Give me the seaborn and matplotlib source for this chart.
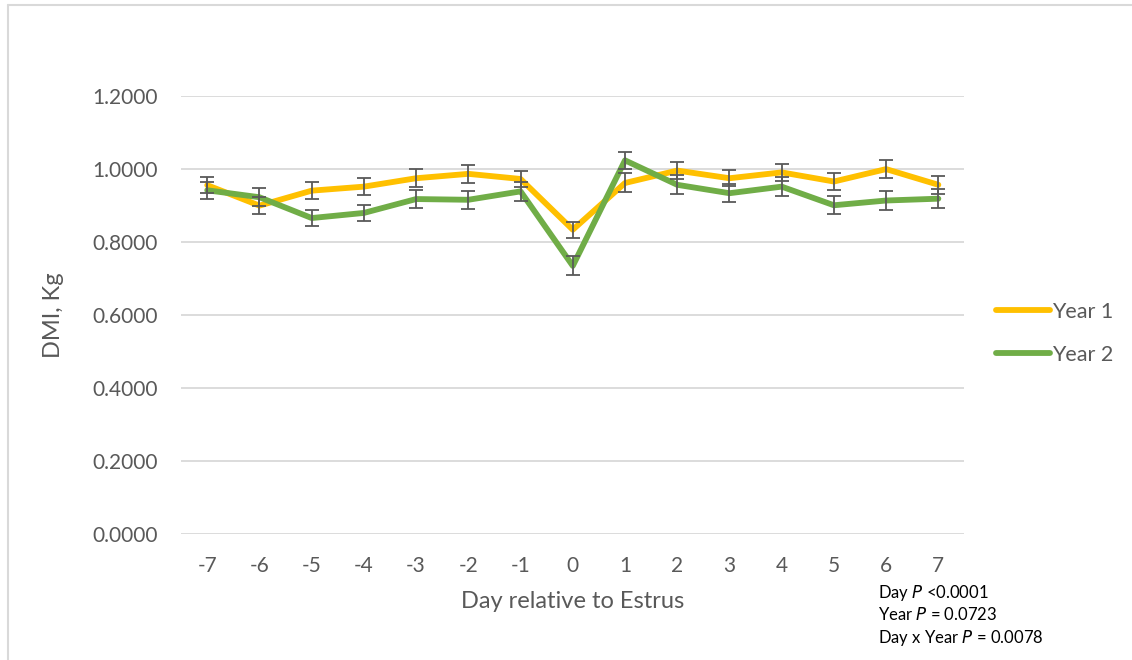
import pandas as pd
import matplotlib.pyplot as plt
import seaborn as sns
from matplotlib.lines import Line2D

days = [-7, -6, -5, -4, -3, -2, -1, 0, 1, 2, 3, 4, 5, 6, 7]
year1 = [0.955, 0.899, 0.940, 0.951, 0.974, 0.986, 0.972, 0.833, 0.961,
         0.995, 0.974, 0.990, 0.965, 0.999, 0.956]
year2 = [0.941, 0.922, 0.865, 0.879, 0.917, 0.915, 0.938, 0.734, 1.023,
         0.956, 0.933, 0.951, 0.900, 0.913, 0.918]
year1_se = [0.022, 0.024, 0.023, 0.023, 0.025, 0.024, 0.023, 0.022, 0.026,
            0.023, 0.022, 0.023, 0.023, 0.025, 0.025]
year2_se = [0.024, 0.024, 0.023, 0.023, 0.025, 0.024, 0.027, 0.026, 0.024,
            0.026, 0.025, 0.027, 0.024, 0.025, 0.026]
series = ['Year 1', 'Year 2']
colors = ['#FFC000', '#70AD47']
grey = '#595959'

df = pd.DataFrame({
    'day': days * 2,
    'dmi': year1 + year2,
    'se': year1_se + year2_se,
    'year': [series[0]] * len(days) + [series[1]] * len(days),
})

sns.set_style('white')
plt.rcParams['font.family'] = ['Lato', 'DejaVu Sans']

fig = plt.figure(figsize=(11.32, 6.6), dpi=100)
ax = fig.add_axes([0.160, 0.191, 0.692, 0.664])

sns.lineplot(data=df, x='day', y='dmi', hue='year', palette=colors,
             linewidth=4.2, ax=ax, legend=False, zorder=2,
             solid_capstyle='round')
for name in series:
    sub = df[df['year'] == name]
    ax.errorbar(sub['day'], sub['dmi'], yerr=sub['se'], fmt='none',
                ecolor=grey, elinewidth=1.3, capsize=5, capthick=1.3, zorder=3)

ax.set_xlim(-7.5, 7.5)
ax.set_ylim(0, 1.2)
ax.set_xticks(days)
ax.set_xticklabels([str(d) for d in days])
ax.set_yticks([0, 0.2, 0.4, 0.6, 0.8, 1.0, 1.2])
ax.set_yticklabels(['%.4f' % v for v in [0, 0.2, 0.4, 0.6, 0.8, 1.0, 1.2]])
ax.grid(axis='y', color='#d9d9d9', linewidth=1.3, zorder=0)
ax.set_axisbelow(True)
for s in ['top', 'right', 'left', 'bottom']:
    ax.spines[s].set_visible(False)
ax.tick_params(axis='both', length=0, labelsize=15, colors=grey)
ax.tick_params(axis='y', pad=17)
ax.tick_params(axis='x', pad=16)
ax.set_xlabel('Day relative to Estrus', fontsize=17, color=grey, labelpad=11)
ax.set_ylabel('DMI, Kg', fontsize=17, color=grey, labelpad=20)

handles = [Line2D([0], [0], color=c, linewidth=4.2, solid_capstyle='round')
           for c in colors]
fig.legend(handles, series, loc='center left', bbox_to_anchor=(0.863, 0.495),
           frameon=False, fontsize=15.5, labelcolor=grey, handlelength=2.5,
           handletextpad=0.1, labelspacing=1.05)

fig.text(0.776, 0.094, 'Day $\\it{P}$ <0.0001', fontsize=12, color='black')
fig.text(0.776, 0.060, 'Year $\\it{P}$ = 0.0723', fontsize=12, color='black')
fig.text(0.776, 0.026, 'Day x Year $\\it{P}$ = 0.0078', fontsize=12, color='black')

# chart area border (cropped at right and bottom)
fig.add_artist(Line2D([0.007, 1.0], [0.992, 0.992], color='#d9d9d9', linewidth=1.5))
fig.add_artist(Line2D([0.007, 0.007], [0.0, 0.992], color='#d9d9d9', linewidth=1.5))

plt.savefig('out.png', dpi=100)
